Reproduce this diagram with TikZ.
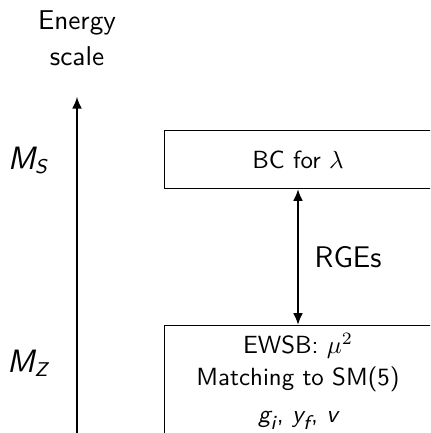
\documentclass[tikz,border=0pt]{standalone}
\usetikzlibrary{arrows.meta}
\newcommand{\sv}[1]{\hbox{\sffamily\slshape #1}}
\newcommand{\ssub}[1]{\hbox{\sffamily\slshape\fontsize{8}{9}\selectfont #1}}
\begin{document}
\begin{tikzpicture}[x=0.4024pt,y=-0.4024pt,
  every node/.style={font=\sffamily},
  box/.style={draw, line width=0.4pt, minimum width=268*0.4024pt, inner sep=0pt},
  arr/.style={line width=0.8pt, -{Latex[length=4.8pt,width=4pt]}},
  darr/.style={line width=0.8pt, {Latex[length=4.8pt,width=4pt]}-{Latex[length=4.8pt,width=4pt]}},
  scalelbl/.style={font=\sffamily\fontsize{13}{15}\selectfont, anchor=base}]
\useasboundingbox (0,0) rectangle (430,433);
\clip (0,0) rectangle (430,433);
% axis
\node[align=center, font=\sffamily\fontsize{10.95}{14.1}\selectfont, anchor=base] (title) at (77,65) {Energy\\scale};
\coordinate (axbot) at (77,445);
\coordinate (axtop) at (77,96.7);
\draw[arr] (axbot) -- (axtop);
\node[scalelbl] (ms) at (28,169) {\fontsize{13}{15}\selectfont$\sv{M}_{\ssub{S}}$};
\node[scalelbl] (mz) at (28,372) {\fontsize{13}{15}\selectfont$\sv{M}_{\ssub{Z}}$};
% boxes
\node[box, minimum height=58*0.4024pt, anchor=north, font=\sffamily\fontsize{10}{12}\selectfont] (bc) at (298,130) {BC for $\lambda$};
\node[box, minimum height=130*0.4024pt, anchor=north] (ewsb) at (298,325) {};
\node[align=center, anchor=north, inner sep=0pt, font=\sffamily\fontsize{10}{12.6}\selectfont] (ewsbtxt) at ([yshift=-3.3pt]ewsb.north) {EWSB: $\mu^2$\\Matching to SM(5)\\[2.5pt]$\sv{g}_{\ssub{i}}$, $\sv{y}_{\ssub{f}}$, $\sv{v}$};
\draw[darr] (bc.south) -- node[right=3pt, font=\sffamily\fontsize{12}{14}\selectfont] (rge) {RGEs} (ewsb.north);
\end{tikzpicture}
\end{document}
